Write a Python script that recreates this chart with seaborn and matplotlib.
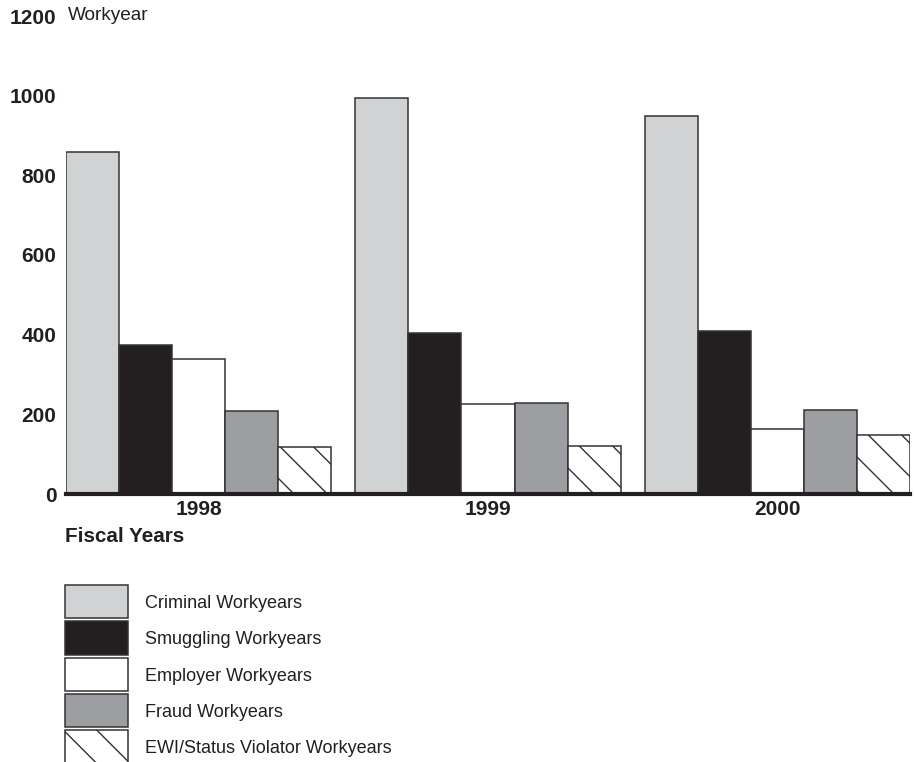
import numpy as np
import pandas as pd
import matplotlib
matplotlib.use("Agg")
import matplotlib.pyplot as plt
import matplotlib.patches as mpatches
from matplotlib.legend_handler import HandlerPatch
import seaborn as sns

# ---- data ----
years = ["1998", "1999", "2000"]
categories = ["Criminal Workyears", "Smuggling Workyears", "Employer Workyears",
              "Fraud Workyears", "EWI/Status Violator Workyears"]
criminal = [859, 995, 950]
smuggling = [374, 405, 410]
employer = [338, 225, 162]
fraud = [209, 229, 211]
ewi = [118, 121, 148]
yticks = [0, 200, 400, 600, 800, 1000, 1200]

series = [criminal, smuggling, employer, fraud, ewi]
df = pd.DataFrame({
    "year": [y for s in series for y in years],
    "category": [c for c, s in zip(categories, series) for _ in years],
    "value": [v for s in series for v in s],
})

colors = ["#d1d2d4", "#231f20", "#ffffff", "#9d9ea1", "#ffffff"]
edge = "#333333"
txt = "#231f20"

sns.set_theme(style="white")
plt.rcParams["font.family"] = ["Liberation Sans", "DejaVu Sans"]
plt.rcParams["hatch.linewidth"] = 1.0

fig = plt.figure(figsize=(9.14, 7.62), dpi=100)
ax = fig.add_axes([66/914, 1-494/762, (910-66)/914, (494-16)/762])

sns.barplot(data=df, x="year", y="value", hue="category", hue_order=categories,
            order=years, palette=colors, saturation=1, width=0.917, gap=0,
            edgecolor=edge, linewidth=1.1, errorbar=None, legend=False, ax=ax)

for p in ax.containers[4]:
    p.set_hatch("\\")

ax.set_xlim(-0.4585, 2.4585)
ax.set_ylim(0, 1200)
ax.set_yticks(yticks)
ax.set_yticklabels([str(t) for t in yticks], fontsize=15, fontweight="bold", color=txt)
ax.set_xticks(range(len(years)))
ax.set_xticklabels(years, fontsize=15, fontweight="bold", color=txt)
ax.tick_params(axis="y", length=0, pad=7)
ax.tick_params(axis="x", length=0, pad=4)
ax.set_xlabel("")
ax.set_ylabel("")
for s in ["left", "right", "top"]:
    ax.spines[s].set_visible(False)
ax.spines["bottom"].set_linewidth(3)
ax.spines["bottom"].set_color(txt)
ax.patch.set_alpha(0)

fig.text(68/914, 1-16/762, "Workyear", fontsize=13.7, color=txt, va="center", ha="left")
fig.text(65/914, 1-537/762, "Fiscal Years", fontsize=14.9, fontweight="bold",
         color=txt, va="center", ha="left")


def tall_rect(legend, orig_handle, xdescent, ydescent, width, height, fontsize):
    H = 1.85 * fontsize
    cy = -ydescent + height / 2.0
    return mpatches.Rectangle((-xdescent, cy - H / 2.0), width, H)


handles = []
for c, col in zip(categories, colors):
    h = mpatches.Patch(facecolor=col, edgecolor=edge, linewidth=1.1,
                       hatch="\\" if c.startswith("EWI") else None, label=c)
    handles.append(h)
fig.legend(handles=handles, loc="upper left", bbox_to_anchor=(65/914, 1-595/762),
           frameon=False, fontsize=13, handlelength=3.5,
           labelspacing=1.07, handletextpad=0.95, borderpad=0, borderaxespad=0,
           labelcolor=txt,
           handler_map={mpatches.Patch: HandlerPatch(patch_func=tall_rect)})

fig.savefig("out.png", dpi=100)
